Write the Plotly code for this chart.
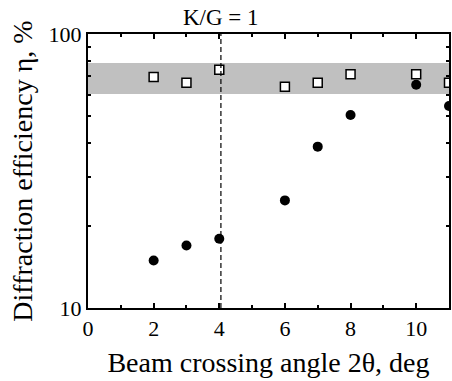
import plotly.graph_objects as go

angle_sq = [2, 3, 4, 6, 7, 8, 10, 11]
eff_sq = [69.7, 66.4, 74.1, 64.2, 66.4, 71.3, 71.3, 66.4]
angle_dot = [2, 3, 4, 6, 7, 8, 10, 11]
eff_dot = [14.9, 16.9, 17.9, 24.7, 38.8, 50.6, 65.3, 54.6]
band_low, band_high = 60.4, 78.3
kg_angle = 4.05
x_ticks = [0, 2, 4, 6, 8, 10]
x_minor = [1, 3, 5, 7, 9, 11]
y_ticks = [10, 100]
y_minor = [20, 30, 40, 50, 60, 70, 80, 90]

font = "Liberation Serif"
fig = go.Figure()
fig.add_trace(go.Scatter(x=angle_dot, y=eff_dot, mode="markers",
                         marker=dict(symbol="circle", size=10, color="black"),
                         showlegend=False))
fig.add_trace(go.Scatter(x=angle_sq, y=eff_sq, mode="markers",
                         marker=dict(symbol="square", size=9, color="white",
                                     line=dict(color="black", width=1.5)),
                         showlegend=False))

fig.add_shape(type="rect", xref="paper", yref="y", x0=0, x1=1,
              y0=band_low, y1=band_high, fillcolor="#c0c0c0",
              line=dict(width=0), layer="below")
fig.add_shape(type="line", xref="x", yref="paper", x0=kg_angle, x1=kg_angle,
              y0=0, y1=1, line=dict(color="black", width=1.2, dash="5px,3px"))
fig.add_annotation(x=kg_angle, y=1, xref="x", yref="paper", yanchor="bottom",
                   yshift=2, text="K/G = 1", showarrow=False,
                   font=dict(family=font, size=23, color="black"))

fig.update_xaxes(range=[0, 11], tickvals=x_ticks, ticks="inside", ticklen=5,
                 tickwidth=1.5, tickcolor="black", showline=True, linecolor="black",
                 linewidth=2, mirror="ticks", showgrid=False, zeroline=False,
                 tickfont=dict(family=font, size=22, color="black"),
                 minor=dict(tickvals=x_minor, ticks="inside", ticklen=3,
                            tickwidth=1.5, tickcolor="black", showgrid=False),
                 title=dict(text="Beam crossing angle 2θ, deg", standoff=12,
                            font=dict(family=font, size=28, color="black")))
fig.update_yaxes(type="log", range=[1, 2], tickvals=y_ticks, ticks="inside",
                 ticklen=5, tickwidth=1.5, tickcolor="black", showline=True,
                 linecolor="black", linewidth=2, mirror="ticks", showgrid=False,
                 zeroline=False,
                 tickfont=dict(family=font, size=22, color="black"),
                 minor=dict(tickvals=y_minor, ticks="inside", ticklen=3,
                            tickwidth=1.5, tickcolor="black", showgrid=False),
                 title=dict(text="Diffraction efficiency η, %", standoff=8,
                            font=dict(family=font, size=28, color="black")))

fig.update_layout(width=452, height=381, margin=dict(l=88, r=1, t=34, b=73),
                  plot_bgcolor="white", paper_bgcolor="white")
fig.write_html("out.html")
